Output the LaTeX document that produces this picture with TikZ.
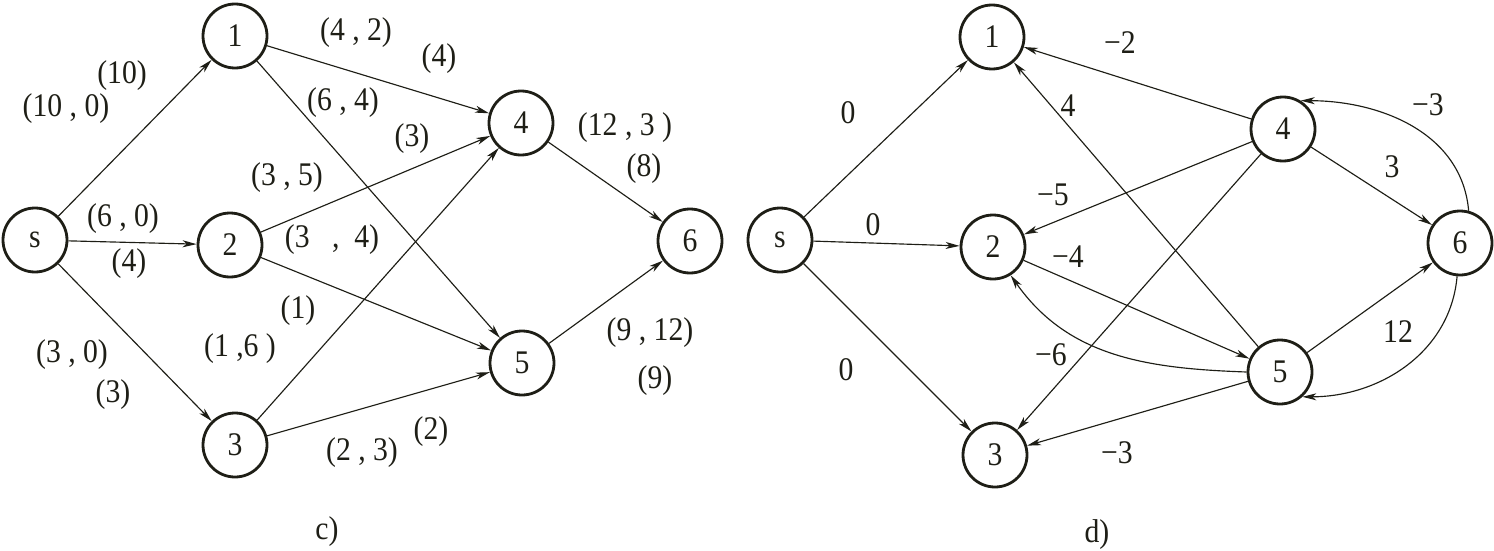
\documentclass[tikz,border=0pt]{standalone}
\usepackage{fontspec}
\setmainfont{Liberation Serif}
\newfontfamily\labfont[FakeStretch=0.9]{Liberation Serif}
\usetikzlibrary{arrows.meta}
\definecolor{ink}{RGB}{30,30,22}
\begin{document}
\begin{tikzpicture}[x=1pt,y=-1pt,
  nd/.style={circle,draw=ink,line width=2.8pt,minimum size=64pt,inner sep=0pt,text=ink,font=\labfont\fontsize{33}{34}\selectfont},
  ed/.style={draw=ink,line width=1.15pt,-{Stealth[length=14pt,width=7pt,inset=4pt]}},
  lab/.style={inner sep=0pt,text=ink,font=\labfont\fontsize{33}{34}\selectfont}]
\useasboundingbox (0,0) rectangle (1494,551);
% ---------- c) ----------
\node[nd] (s) at (35,240) {s};
\node[nd] (a1) at (235,36) {1};
\node[nd] (a2) at (230,245) {2};
\node[nd] (a3) at (235,445) {3};
\node[nd] (a4) at (521,123) {4};
\node[nd] (a5) at (522,363) {5};
\node[nd] (a6) at (690,241) {6};
\draw[ed] (s) -- (a1);
\draw[ed] (s) -- (a2);
\draw[ed] (s) -- (a3);
\draw[ed] (a1) -- (a4);
\draw[ed] (a1) -- (a5);
\draw[ed] (a2) -- (a4);
\draw[ed] (a2) -- (a5);
\draw[ed] (a3) -- (a4);
\draw[ed] (a3) -- (a5);
\draw[ed] (a4) -- (a6);
\draw[ed] (a5) -- (a6);
\node[lab] (l1) at (122,76) {(10)};
\node[lab] (l2) at (66,109) {(10 , 0)};
\node[lab] (l3) at (356,33) {(4 , 2)};
\node[lab] (l4) at (439,59) {(4)};
\node[lab] (l5) at (343,103) {(6 , 4)};
\node[lab] (l6) at (412,139) {(3)};
\node[lab] (l7) at (287,178) {(3 , 5)};
\node[lab] (l8) at (123,219) {(6 , 0)};
\node[lab] (l9) at (129,264) {(4)};
\node[lab] (l10) at (332,240) {(3 ~ , ~4)};
\node[lab] (l11) at (625,128) {(12 , 3 )};
\node[lab] (l12) at (644,169) {(8)};
\node[lab] (l13) at (298,311) {(1)};
\node[lab] (l14) at (240,349) {(1 ,6 )};
\node[lab] (l15) at (72,355) {(3 , 0)};
\node[lab] (l16) at (113,395) {(3)};
\node[lab] (l17) at (650,333) {(9 , 12)};
\node[lab] (l18) at (655,381) {(9)};
\node[lab] (l19) at (362,453) {(2 , 3)};
\node[lab] (l20) at (431,432) {(2)};
\node[lab] (lc) at (327,532) {c)};
% ---------- d) ----------
\node[nd] (t) at (780,240) {s};
\node[nd] (b1) at (992,37) {1};
\node[nd] (b2) at (993,247) {2};
\node[nd] (b3) at (995,455) {3};
\node[nd] (b4) at (1283,129) {4};
\node[nd] (b5) at (1280,372) {5};
\node[nd] (b6) at (1460,243) {6};
\draw[ed] (t) -- (b1);
\draw[ed] (t) -- (b2);
\draw[ed] (t) -- (b3);
\draw[ed] (b4) -- (b1);
\draw[ed] (b5) -- (b1);
\draw[ed] (b4) -- (b2);
\draw[ed] (b2) -- (b5);
\draw[ed] (b4) -- (b3);
\draw[ed] (b5) -- (b3);
\draw[ed] (b4) -- (b6);
\draw[ed] (b5) -- (b6);
\draw[ed] (b5.180) to[out=178,in=-55] (b2.-58);
\draw[ed] (b6.75) to[out=95,in=0] (b4.58);
\draw[ed] (b6.-95) to[out=-95,in=0] (b5.-48);
\node[lab] (m1) at (848,113) {0};
\node[lab] (m2) at (873,225) {0};
\node[lab] (m3) at (846,370) {0};
\node[lab] (m4) at (1120,43) {−2};
\node[lab] (m5) at (1068,106) {4};
\node[lab] (m6) at (1053,195) {−5};
\node[lab] (m7) at (1068,257) {−4};
\node[lab] (m8) at (1051,355) {−6};
\node[lab] (m9) at (1117,453) {−3};
\node[lab] (m10) at (1392,167) {3};
\node[lab] (m11) at (1398,332) {12};
\node[lab] (m12) at (1428,105) {−3};
\node[lab] (ld) at (1097,535) {d)};
\end{tikzpicture}
\end{document}
